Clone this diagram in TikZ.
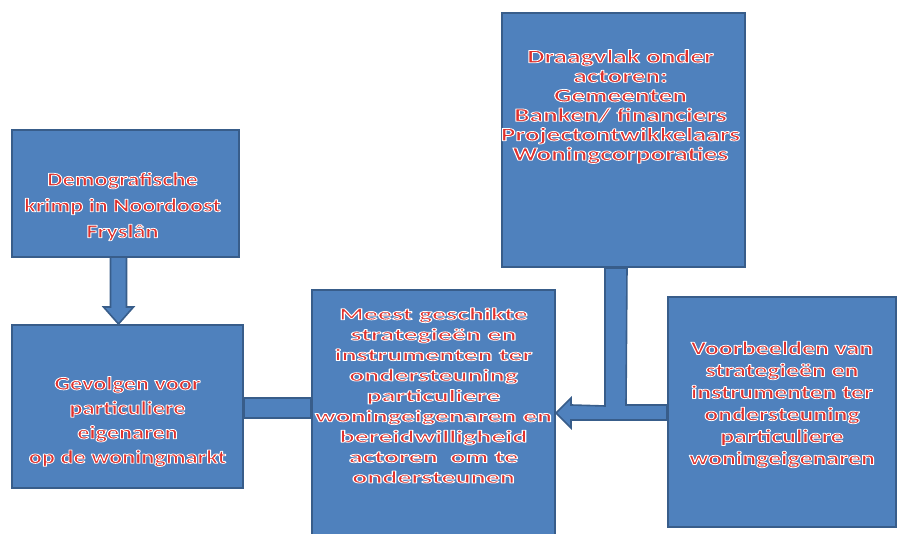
\documentclass[tikz,border=0pt]{standalone}
\usepackage{fontspec}
\newfontfamily\boxfont{Carlito}
\usetikzlibrary{calc,positioning}
\definecolor{boxblue}{HTML}{4F81BD}
\definecolor{boxline}{HTML}{385D8A}
\definecolor{textred}{HTML}{E0302C}
\newcommand{\outlon}{\special{pdf:literal direct 2 Tr 1 1 1 RG 0.75 w 1 j}}
\newcommand{\outloff}{\special{pdf:literal direct 0 Tr}}
\pgfdeclarelayer{bg}
\pgfsetlayers{bg,main}
\tikzset{
	box/.style={draw=boxline,fill=boxblue,line width=2pt,inner sep=0pt},
	conn/.style={draw=boxline,fill=boxblue,line width=1.6pt,line join=miter},
	txt/.style n args={3}{text=textred,align=center,inner sep=0pt,
		font=\boxfont\bfseries\fontsize{#1}{#2}\selectfont,xscale=#3}
}

\begin{document}
\begin{tikzpicture}[x=1pt,y=1pt]
		\useasboundingbox (0,0) rectangle (898,534);
		\clip (0,0) rectangle (898,534);
		\begin{scope}[every node/.style={box}]
			\node (A) at (125.5,340.5) [minimum width=227pt,minimum height=127pt] {};
			\node (B) at (127.5,127.5) [minimum width=231pt,minimum height=163pt] {};
			\node (C) at (433.5,116.5) [minimum width=243pt,minimum height=255pt] {};
			\node (D) at (623.5,394) [minimum width=243pt,minimum height=254pt] {};
			\node (E) at (782,122) [minimum width=228pt,minimum height=230pt] {};
		\end{scope}
		\node (At) at ($(A.center)+(-3,-13)$) [txt={19}{26}{1.28}]
			{\outlon Demografische\\krimp in Noordoost\\Fryslân\outloff};
		\node (Bt) at ($(B.center)+(0,-15)$) [txt={19}{24.5}{1.28}]
			{\outlon Gevolgen voor\\particuliere\\eigenaren\\op de woningmarkt\outloff};
		\node (Ct) at ($(C.center)+(0,22)$) [txt={17}{20.4}{1.65}]
			{\outlon Meest geschikte\\strategieën en\\instrumenten ter\\ondersteuning\\particuliere\\
			woningeigenaren en\\bereidwilligheid\\actoren\ \ om te\\ondersteunen\outloff};
		\node (Dt) at ($(D.center)+(-3,33.5)$) [txt={19}{19.5}{1.44}]
			{\outlon Draagvlak onder\\actoren:\\Gemeenten\\Banken/ financiers\\
			Projectontwikkelaars\\Woningcorporaties\outloff};
		\node (Et) at ($(E.center)+(0,7.5)$) [txt={19}{22}{1.36}]
			{\outlon Voorbeelden van\\strategieën en\\instrumenten ter\\ondersteuning\\
			particuliere\\woningeigenaren\outloff};
		\begin{pgfonlayer}{bg}
			\draw[conn] ($(A.south)+(-15,0)$) -- ($(B.north)+(-17,17)$) -- ($(B.north)+(-24,17)$)
				-- ($(B.north)+(-9,0)$) -- ($(B.north)+(6,17)$) -- ($(B.north)+(-1,17)$) -- ($(A.south)+(1,0)$);
			\draw[conn] ($(B.east)+(0,8.5)$) rectangle ($(C.west)+(0,-0.5)$);
			\draw[conn] ($(E.west)+(0,7)$) -- ++(-41,0) -- ($(D.south)+(3.5,0)$) -- ($(D.south)+(-18.5,0)$)
				-- ++(0,-138) -- ($(C.east)+(15,12.5)$) -- ++(0,7) -- ($(C.east)+(0,4.5)$)
				-- ($(C.east)+(15,-10.5)$) -- ++(0,8) -- ($(E.west)+(0,-8)$) -- cycle;
		\end{pgfonlayer}
	\end{tikzpicture}
\end{document}
